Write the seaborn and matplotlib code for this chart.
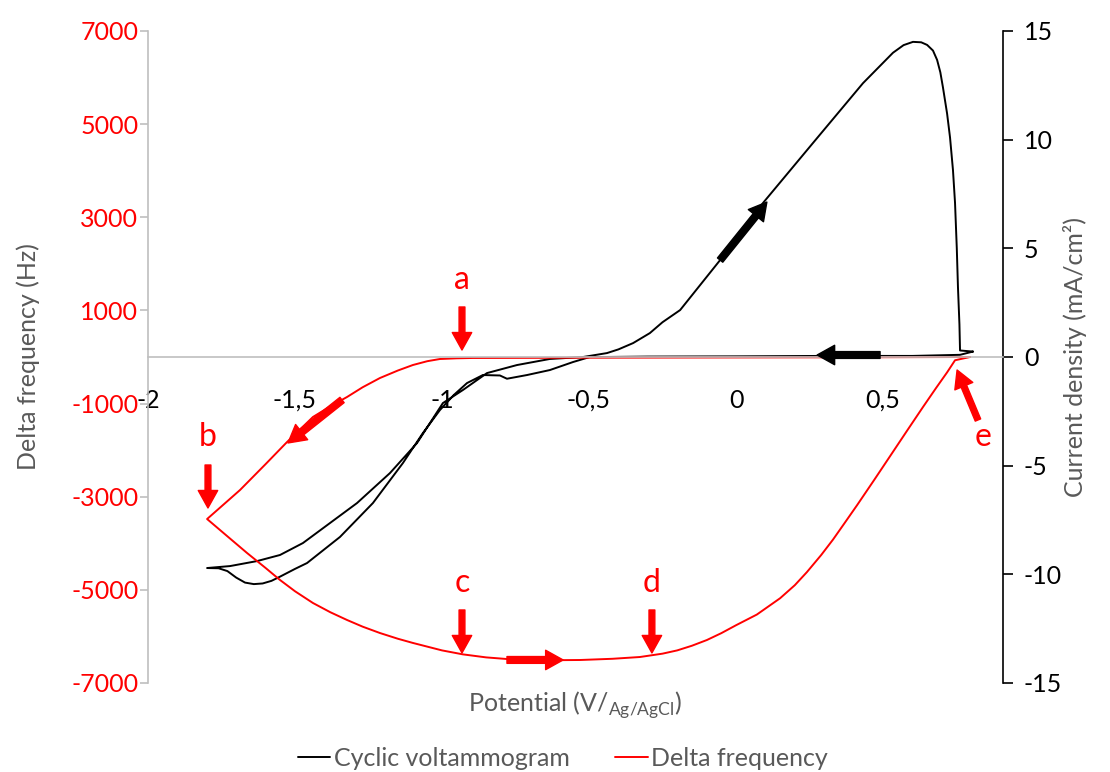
import matplotlib
matplotlib.use("Agg")
import matplotlib.pyplot as plt
import seaborn as sns
import pandas as pd

# Delta frequency trace (Hz) versus potential (V vs Ag/AgCl)
freq_potential = [0.796, 0.5, 0.0, -0.5, -0.895, -0.95, -1.007, -1.05, -1.099, -1.15, -1.211,
                  -1.27, -1.323, -1.38, -1.439, -1.527, -1.6, -1.687, -1.799,
                  -1.73, -1.663, -1.6, -1.551, -1.5, -1.439, -1.38, -1.323, -1.27, -1.211,
                  -1.15, -1.099, -1.0, -0.929, -0.85, -0.759, -0.65, -0.53, -0.42, -0.327,
                  -0.25, -0.2, -0.15, -0.099, -0.05, 0.0, 0.071, 0.15, 0.2, 0.241, 0.29,
                  0.33, 0.37, 0.412, 0.47, 0.524, 0.58, 0.636, 0.68, 0.718, 0.745, 0.796]
delta_freq = [0, -5, -10, -15, -21, -28, -43, -90, -172, -290, -451,
              -650, -859, -1060, -1288, -1825, -2300, -2856, -3479,
              -3850, -4209, -4530, -4788, -5030, -5282, -5480, -5647, -5790, -5927,
              -6050, -6140, -6300, -6385, -6450, -6495, -6512, -6506, -6480, -6442,
              -6370, -6300, -6200, -6077, -5930, -5760, -5530, -5180, -4900, -4620, -4250,
              -3920, -3560, -3180, -2640, -2130, -1600, -1074, -670, -330, -70, 0]

# Cyclic voltammogram: current density (mA/cm2) versus potential
cv_potential = [0.806, 0.762, 0.6, 0.3, 0.0, -0.3, -0.45, -0.497, -0.554, -0.633, -0.711,
                -0.779, -0.803, -0.861, -0.915, -0.96, -1.007, -1.065, -1.133, -1.235,
                -1.347, -1.459, -1.50, -1.55, -1.58, -1.61, -1.64, -1.67, -1.70, -1.73,
                -1.76, -1.799, -1.721, -1.629, -1.551, -1.473, -1.381, -1.289, -1.177,
                -1.085, -0.997, -0.929, -0.847, -0.745, -0.633, -0.520, -0.439, -0.40,
                -0.35, -0.293, -0.25, -0.19, -0.054, 0.092, 0.262, 0.432, 0.534, 0.57,
                0.602, 0.63, 0.65, 0.67, 0.684, 0.695, 0.704, 0.718, 0.728, 0.738, 0.745,
                0.751, 0.755, 0.76, 0.762, 0.806]
current_density = [0.25, 0.1, 0.05, 0.05, 0.03, 0.02, 0.0, 0.0, -0.23, -0.6, -0.83,
                   -1.0, -0.85, -0.83, -1.2, -1.75, -2.44, -3.5, -4.88, -6.72,
                   -8.28, -9.48, -9.75, -10.1, -10.3, -10.42, -10.45, -10.38, -10.15, -9.85,
                   -9.72, -9.71, -9.62, -9.39, -9.11, -8.56, -7.64, -6.72, -5.34,
                   -3.96, -2.12, -1.52, -0.74, -0.37, -0.09, 0.0, 0.18, 0.35,
                   0.64, 1.1, 1.6, 2.16, 4.46, 7.09, 9.85, 12.6, 14.0, 14.35,
                   14.5, 14.48, 14.36, 14.1, 13.67, 13.1, 12.4, 11.2, 10.1, 8.6, 7.09,
                   5.0, 3.2, 1.5, 0.3, 0.25]

x_ticks = [-2, -1.5, -1, -0.5, 0, 0.5]
x_tick_labels = ["-2", "-1,5", "-1", "-0,5", "0", "0,5"]
freq_ticks = [7000, 5000, 3000, 1000, -1000, -3000, -5000, -7000]
cd_ticks = [15, 10, 5, 0, -5, -10, -15]

# Stage labels on the frequency curve: (label, potential, text y, arrow start y, arrow end y)
stage_labels = [
    ("a", -0.932, 1653, 1074, 150),
    ("b", -1.796, -1718, -2319, -3242),
    ("c", -0.932, -4852, -5432, -6355),
    ("d", -0.286, -4852, -5432, -6355),
]

sns.set_style("white")
plt.rcParams["font.family"] = ["Lato", "DejaVu Sans"]
plt.rcParams["mathtext.fontset"] = "custom"
plt.rcParams["mathtext.rm"] = "Lato"

RED = "#ff0000"
GREY_TXT = "#595959"
GREY_LINE = "#bfbfbf"

fig = plt.figure(figsize=(11.10, 7.72), dpi=100)
ax = fig.add_axes([148 / 1110, 1 - 683 / 772, 855 / 1110, 652 / 772])
ax2 = ax.twinx()
ax.set_zorder(ax2.get_zorder() + 1)
ax.patch.set_visible(False)

freq_df = pd.DataFrame({"potential": freq_potential, "delta_f": delta_freq})
cv_df = pd.DataFrame({"potential": cv_potential, "j": current_density})

sns.lineplot(data=cv_df, x="potential", y="j", sort=False, estimator=None,
             color="black", lw=1.4, ax=ax2)
sns.lineplot(data=freq_df, x="potential", y="delta_f", sort=False, estimator=None,
             color=RED, lw=1.4, ax=ax)

xmax = -2 + 855 / 294
ax.set_xlim(-2, xmax)
ax.set_ylim(-7000, 7000)
ax2.set_ylim(-15, 15)

# x axis crossing at zero
for s in ["top", "right"]:
    ax.spines[s].set_visible(False)
ax.spines["bottom"].set_position(("data", 0))
ax.spines["bottom"].set_color(GREY_LINE)
ax.spines["bottom"].set_linewidth(1.2)
ax.spines["left"].set_color(GREY_LINE)
ax.spines["left"].set_linewidth(1.2)
ax.set_xticks(x_ticks)
ax.set_xticklabels(x_tick_labels)
ax.tick_params(axis="x", direction="out", length=7, width=1.2, color=GREY_LINE,
               labelsize=18, labelcolor="black", pad=16)
ax.set_yticks(freq_ticks)
ax.set_yticklabels([str(t) for t in freq_ticks])
ax.tick_params(axis="y", direction="out", length=6, width=1.2, color=GREY_LINE,
               labelsize=18, labelcolor=RED, pad=1)
ax.set_xlabel("")
ax.set_ylabel("")

for s in ["top", "left", "bottom"]:
    ax2.spines[s].set_visible(False)
ax2.spines["right"].set_color("black")
ax2.spines["right"].set_linewidth(1.2)
ax2.set_yticks(cd_ticks)
ax2.set_yticklabels([str(t) for t in cd_ticks])
ax2.tick_params(axis="y", direction="out", length=7, width=1.2, color="black",
                labelsize=18, labelcolor="black", pad=8)
ax2.set_ylabel("")
ax2.grid(False)
ax.grid(False)

# axis titles
fig.text(28 / 1110, 1 - 357 / 772, "Delta frequency (Hz)", rotation=90,
         ha="center", va="center", fontsize=18, color=GREY_TXT)
fig.text(1075 / 1110, 1 - 357 / 772, "Current density (mA/cm²)", rotation=90,
         ha="center", va="center", fontsize=18, color=GREY_TXT)
fig.text(575 / 1110, 1 - 705 / 772, r"Potential (V/$_\mathrm{Ag/AgCl}$)",
         ha="center", va="center", fontsize=18, color=GREY_TXT)

# stage markers
arrow_v = dict(arrowstyle="simple,head_length=0.9,head_width=1.0,tail_width=0.3",
               color=RED, mutation_scale=14, shrinkA=0, shrinkB=0)
for lab, xv, ty, y0, y1 in stage_labels:
    ax.text(xv, ty, lab, color=RED, fontsize=23, ha="center", va="center")
    ax.annotate("", xy=(xv, y1), xytext=(xv, y0), arrowprops=arrow_v)

ax.text(0.840, -1718, "e", color=RED, fontsize=23, ha="center", va="center")
ax.annotate("", xy=(0.752, -279), xytext=(0.823, -1353), arrowprops=arrow_v)

# scan direction arrows
arrow_dir_r = dict(arrowstyle="simple,head_length=0.9,head_width=1.0,tail_width=0.35",
                   color=RED, mutation_scale=14, shrinkA=0, shrinkB=0)
arrow_dir_k = dict(arrowstyle="simple,head_length=0.9,head_width=1.0,tail_width=0.35",
                   color="black", mutation_scale=14, shrinkA=0, shrinkB=0)
ax.annotate("", xy=(-1.524, -1846), xytext=(-1.340, -923), arrowprops=arrow_dir_r)
ax.annotate("", xy=(-0.588, -6505), xytext=(-0.779, -6505), arrowprops=arrow_dir_r)
ax2.annotate("", xy=(0.105, 7.13), xytext=(-0.054, 4.46), arrowprops=arrow_dir_k)
ax.annotate("", xy=(0.276, 43), xytext=(0.490, 43), arrowprops=arrow_dir_k)

# legend
handles = [plt.Line2D([], [], color="black", lw=1.4),
           plt.Line2D([], [], color=RED, lw=1.4)]
fig.legend(handles, ["Cyclic voltammogram", "Delta frequency"], loc="center",
           bbox_to_anchor=(563 / 1110, 1 - 758 / 772), ncol=2, frameon=False,
           fontsize=18, labelcolor=GREY_TXT, handlelength=1.3, handletextpad=0.15,
           columnspacing=1.8)

fig.savefig("out.png", dpi=100)
